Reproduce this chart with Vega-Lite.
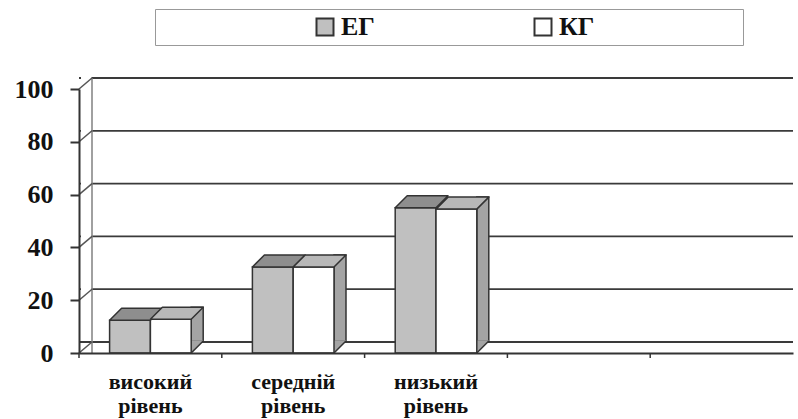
{
  "$schema": "https://vega.github.io/schema/vega-lite/v6.json",
  "width": 714,
  "height": 264,
  "autosize": {"type": "none"},
  "padding": {"left": 79, "top": 89, "right": 5, "bottom": 66},
  "background": "white",
  "config": {"view": {"stroke": null}, "font": "Liberation Serif, Times New Roman, DejaVu Serif, serif"},
  "datasets": {
    "bars": [
      {"cat": "високий рівень", "series": "ЕГ", "v": 12.4},
      {"cat": "високий рівень", "series": "КГ", "v": 12.8},
      {"cat": "середній рівень", "series": "ЕГ", "v": 32.6},
      {"cat": "середній рівень", "series": "КГ", "v": 32.6},
      {"cat": "низький рівень", "series": "ЕГ", "v": 55.0},
      {"cat": "низький рівень", "series": "КГ", "v": 54.5}
    ],
    "cats": [{"cat": "високий рівень"}, {"cat": "середній рівень"}, {"cat": "низький рівень"}, {"cat": "e4"}, {"cat": "e5"}],
    "ticks": [{"t": 0}, {"t": 20}, {"t": 40}, {"t": 60}, {"t": 80}, {"t": 100}]
  },
  "layer": [
    {
      "data": {"name": "ticks"},
      "mark": {"type": "rule", "color": "#3a3a3a", "strokeWidth": 1.8, "yOffset": -11, "y2Offset": -11},
      "encoding": {
        "y": {
          "field": "t", "type": "quantitative",
          "scale": {"domain": [0, 100], "nice": false},
          "axis": {
            "values": [0, 20, 40, 60, 80, 100], "title": null, "grid": false,
            "domainColor": "#333", "domainWidth": 2, "tickColor": "#333", "tickWidth": 2, "tickSize": 9,
            "labelFont": "Liberation Serif, Times New Roman, DejaVu Serif, serif", "labelFontWeight": "bold", "labelFontSize": 26, "labelColor": "#111",
            "labelPadding": 17, "zindex": 1
          }
        }
      }
    },
    {
      "data": {"name": "ticks"},
      "transform": [{"filter": "datum.t == 100"}],
      "mark": {"type": "bar", "width": {"band": 0.0735}, "xOffset": -64.15, "yOffset": -14, "y2Offset": -2, "fill": "white", "strokeWidth": 0},
      "encoding": {
        "x": {"datum": "високий рівень", "type": "nominal"},
        "y": {"field": "t", "type": "quantitative"}
      }
    },
    {
      "data": {"name": "ticks"},
      "transform": [{"filter": "datum.t == 100"}],
      "mark": {"type": "rule", "color": "#808080", "strokeWidth": 1.5, "xOffset": 13, "yOffset": -11, "y2Offset": -11},
      "encoding": {
        "x": {"datum": "високий рівень", "type": "nominal", "bandPosition": 0}
      }
    },
    {
      "data": {"name": "ticks"},
      "mark": {"type": "point", "shape": "M 0 0 L 1 -0.8462", "size": 676, "filled": false, "strokeWidth": 1.5, "opacity": 1},
      "encoding": {
        "x": {"datum": "високий рівень", "type": "nominal", "bandPosition": 0},
        "y": {"field": "t", "type": "quantitative"},
        "stroke": {
          "field": "t", "type": "quantitative",
          "scale": {"range": ["#555555", "#555555"]},
          "legend": {
            "orient": "none", "legendX": 76, "legendY": -80, "direction": "horizontal", "title": null,
            "gradientLength": 572, "gradientThickness": 19, "gradientOpacity": 0, "gradientStrokeWidth": 0,
            "labelExpr": "''", "labelOffset": 0, "labelFontSize": 1,
            "padding": 8, "strokeColor": "#999"
          }
        }
      }
    },
    {
      "data": {"name": "cats"},
      "mark": {"type": "point", "shape": "M 0 0 L 0 1", "size": 100, "filled": false, "stroke": "#333", "strokeWidth": 1.5, "opacity": 1},
      "encoding": {
        "x": {"field": "cat", "type": "nominal", "bandPosition": 0},
        "y": {"datum": 0, "type": "quantitative"}
      }
    },
    {
      "data": {"name": "bars"},
      "transform": [{"filter": "datum.series == 'КГ'"}],
      "mark": {"type": "bar", "width": {"band": 0.08403}, "xOffset": 46.8, "yOffset": -12, "y2Offset": -12, "fill": "#a4a4a4", "stroke": "#333", "strokeWidth": 1.5},
      "encoding": {
        "x": {"field": "cat", "type": "nominal"},
        "y": {"field": "v", "type": "quantitative"}
      }
    },
    {
      "data": {"name": "bars"},
      "transform": [{"filter": "datum.series == 'КГ'"}],
      "mark": {"type": "point", "shape": "M 0.7727 0 L 1 -0.2273 L 1 -0.2424 L 0.7727 -0.2424 Z", "size": 11151, "filled": true, "fill": "#a4a4a4", "opacity": 1, "strokeWidth": 0},
      "encoding": {
        "x": {"field": "cat", "type": "nominal"},
        "y": {"datum": 0, "type": "quantitative"}
      }
    },
    {
      "data": {"name": "bars"},
      "transform": [{"filter": "datum.series == 'КГ'"}],
      "mark": {"type": "point", "shape": "M 0.7727 0 L 1 -0.2273", "size": 11151, "filled": false, "stroke": "#333", "strokeWidth": 1.5, "opacity": 1},
      "encoding": {
        "x": {"field": "cat", "type": "nominal"},
        "y": {"datum": 0, "type": "quantitative"}
      }
    },
    {
      "data": {"name": "bars"},
      "mark": {"type": "bar", "stroke": "#333", "strokeWidth": 1.5},
      "encoding": {
        "x": {
          "field": "cat", "type": "nominal",
          "scale": {"domain": ["високий рівень", "середній рівень", "низький рівень", "e4", "e5"], "paddingInner": 0, "paddingOuter": 0},
          "axis": {
            "title": null, "ticks": false,
            "domainColor": "#333", "domainWidth": 2, "labelAngle": 0, "labelAlign": "center",
            "labelFont": "Liberation Serif, Times New Roman, DejaVu Serif, serif", "labelFontWeight": "bold", "labelFontSize": 22, "labelLineHeight": 24,
            "labelPadding": 28, "labelColor": "#111", "zindex": 1,
            "labelExpr": "(datum.value == 'e4' || datum.value == 'e5') ? '' : split(datum.value, ' ')"
          }
        },
        "xOffset": {"field": "series", "type": "nominal", "scale": {"domain": ["ЕГ", "КГ"], "paddingInner": 0, "paddingOuter": 0.75}},
        "y": {"field": "v", "type": "quantitative"},
        "color": {
          "field": "series", "type": "nominal",
          "scale": {"domain": ["ЕГ", "КГ"], "range": ["#c0c0c0", "#ffffff"]},
          "legend": {
            "orient": "none", "legendX": 233, "legendY": -75, "direction": "horizontal", "title": null,
            "padding": 0,
            "symbolType": "square", "symbolSize": 289, "symbolStrokeColor": "#333", "symbolStrokeWidth": 2,
            "labelFont": "Liberation Serif, Times New Roman, DejaVu Serif, serif", "labelFontWeight": "bold", "labelFontSize": 26, "labelColor": "#111",
            "labelOffset": 3, "columnPadding": 155, "labelLimit": 400
          }
        }
      }
    },
    {
      "data": {"name": "bars"},
      "mark": {"type": "point", "shape": "M -0.6296 0 L 0.6296 0 L 1 -0.3704 L -0.2593 -0.3704 Z", "size": 4199, "filled": true, "opacity": 1, "stroke": "#333", "strokeWidth": 1.5, "strokeJoin": "round"},
      "encoding": {
        "x": {"field": "cat", "type": "nominal"},
        "xOffset": {"field": "series", "type": "nominal"},
        "y": {"field": "v", "type": "quantitative"},
        "fill": {"condition": {"test": "datum.series == 'ЕГ'", "value": "#8e8e8e"}, "value": "#b8b8b8"}
      }
    }
  ]
}
